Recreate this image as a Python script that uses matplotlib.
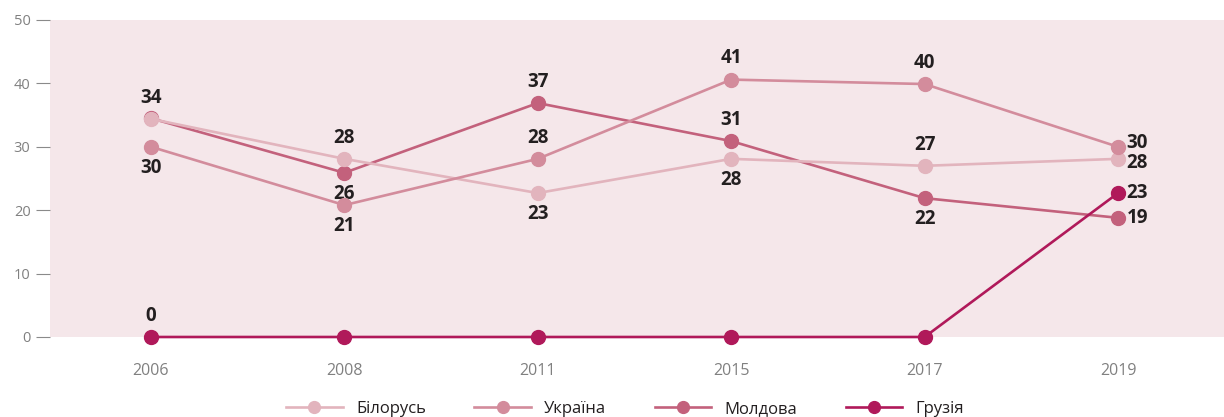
import numpy as np
import matplotlib.pyplot as plt

plt.rcParams['font.family'] = ['Open Sans', 'DejaVu Sans']

years = ['2006', '2008', '2011', '2015', '2017', '2019']
belarus = [34.4, 28.1, 22.7, 28.1, 27.0, 28.1]
ukraine = [30.0, 20.8, 28.1, 40.6, 39.9, 30.0]
moldova = [34.5, 25.9, 36.9, 30.9, 21.9, 18.8]
georgia = [0, 0, 0, 0, 0, 22.7]

names = ['Білорусь', 'Україна', 'Молдова', 'Грузія']
colors = ['#e2b4bd', '#d38c9c', '#c3617c', '#b0195a']
zorders = [4, 5, 3, 6]

# where each value label goes: a = above, b = below, r = right, '' = none
label_pos = [
    ['a', 'a', 'b', 'b', 'a', 'r'],
    ['b', 'b', 'a', 'a', 'a', 'r'],
    ['', 'b', 'a', 'a', 'b', 'r'],
    ['a', '', '', '', '', 'r'],
]
# small vertical nudge for the right-hand labels (points)
right_nudge = [-3, 3, 0, 0]

fig = plt.figure(figsize=(12.24, 4.17), dpi=100)
ax = fig.add_axes([50/1224, 1 - 337/417, 1174/1224, 317/417])
ax.set_facecolor('#f5e7ea')

x = np.arange(len(years))
series = [belarus, ukraine, moldova, georgia]
lab = dict(fontsize=13.5, fontweight='bold', color='#231f20', textcoords='offset points')
for vals, name, c, pos, z, dn in zip(series, names, colors, label_pos, zorders, right_nudge):
    ax.plot(x, vals, color=c, lw=1.9, marker='o', ms=10, label=name,
            clip_on=False, zorder=z)
    for xi, v, p in zip(x, vals, pos):
        if p == 'a':
            ax.annotate(f'{round(v)}', (xi, v), xytext=(0, 8), ha='center', va='bottom', **lab)
        elif p == 'b':
            ax.annotate(f'{round(v)}', (xi, v), xytext=(0, -8), ha='center', va='top', **lab)
        elif p == 'r':
            ax.annotate(f'{round(v)}', (xi, v), xytext=(6, dn), ha='left', va='center', **lab)

ax.set_xlim(-0.522, 5.548)
ax.set_ylim(0, 50)
ax.set_yticks(range(0, 51, 10))
ax.set_xticks(x)
ax.set_xticklabels(years)
ax.tick_params(axis='y', length=10, width=0.8, color='#8a8a8a', labelcolor='#808080',
               labelsize=10.5, pad=4)
ax.tick_params(axis='x', length=0, labelcolor='#808080', labelsize=11.5, pad=19)
for s in ax.spines.values():
    s.set_visible(False)

ax.legend(loc='lower center', bbox_to_anchor=(0.49, -0.30), ncol=4, frameon=False,
          fontsize=12, handlelength=3.4, columnspacing=2.9, handletextpad=0.8,
          markerscale=0.85, labelcolor='#231f20')

fig.savefig('out.png', dpi=100)
